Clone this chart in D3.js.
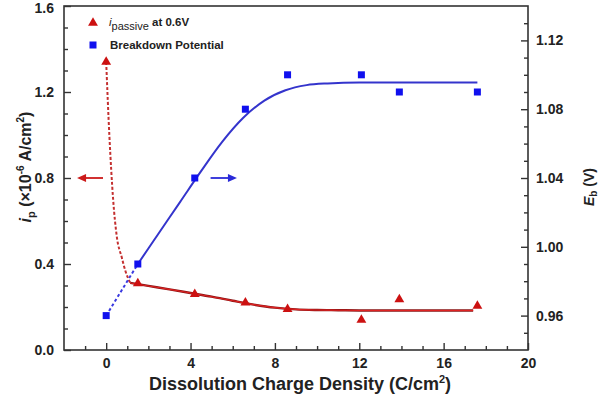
<!DOCTYPE html>
<html>
<head>
<meta charset="utf-8">
<script src="https://cdn.jsdelivr.net/npm/d3@7"></script>
<style>
  html, body { margin: 0; padding: 0; background: #fff; }
  svg text { font-family: "Liberation Sans", Arial, sans-serif; font-weight: bold; fill: #222; }
</style>
</head>
<body>
<svg id="chart" width="600" height="399"></svg>
<script>
// ---------- data ----------
const chargeDensity = [0, 1.5, 4.2, 6.6, 8.6, 12.1, 13.9, 17.6];
const iPassive = [1.34, 0.31, 0.26, 0.22, 0.19, 0.14, 0.235, 0.205];
const breakdownPotential = [0.96, 0.99, 1.04, 1.08, 1.10, 1.10, 1.09, 1.09];

// fitted curves
const fitIpDashedX = [0, 0.15, 0.33, 0.5, 0.74, 0.92, 1.14];
const fitIpDashedY = [1.34, 1.00, 0.70, 0.53, 0.43, 0.365, 0.312];
const fitIpSolidX = [1.14, 2, 3, 4, 5, 6, 7, 8, 9, 10, 11, 12, 17.4];
const fitIpSolidY = [0.312, 0.298, 0.282, 0.265, 0.248, 0.229, 0.211, 0.197, 0.189, 0.186, 0.185, 0.184, 0.184];
const fitEbDashedX = [0, 1.5];
const fitEbDashedY = [0.96, 0.99];
const fitEbSolidX = [1.5, 2.5, 3.5, 4.5, 5.5, 6.5, 7.5, 8.5, 9.5, 10.5, 12, 14, 17.6];
const fitEbSolidY = [0.990, 1.008, 1.026, 1.044, 1.061, 1.075, 1.085, 1.091, 1.094, 1.095, 1.0955, 1.0955, 1.0955];

const xTicks = [0, 4, 8, 12, 16, 20];
const yLeftTicks = [0.0, 0.4, 0.8, 1.2, 1.6];
const yRightTicks = [0.96, 1.00, 1.04, 1.08, 1.12];

const legendLabels = ["at 0.6V", "Breakdown Potential"];

// ---------- layout ----------
const svg = d3.select("#chart");
const L = 64, R = 528, T = 6, B = 350;
const x = d3.scaleLinear().domain([-2, 20]).range([L, R]);
const yL = d3.scaleLinear().domain([0, 1.6]).range([B, T]);
const yR = d3.scaleLinear().domain([0.94, 1.14]).range([B, T]);

const red = "#cc1111", blue = "#1010ee", blueLine = "#3434cc";
const axisColor = "#333";

// frame
svg.append("rect").attr("x", L).attr("y", T).attr("width", R - L).attr("height", B - T)
  .attr("fill", "none").attr("stroke", axisColor).attr("stroke-width", 1.6);

// axes (ticks inside)
const fmt1 = d3.format(".1f"), fmt2 = d3.format(".2f");
const xAxis = d3.axisBottom(x).tickValues(xTicks).tickSize(-7).tickPadding(8).tickFormat(d3.format("d"));
const xMinor = d3.axisBottom(x).tickValues(d3.range(-1, 20, 1).filter(v => v % 4 !== 0)).tickSize(-4).tickFormat("");
const yLAxis = d3.axisLeft(yL).tickValues(yLeftTicks).tickSize(-7).tickPadding(10).tickFormat(fmt1);
const yLMinor = d3.axisLeft(yL).tickValues(d3.range(1, 16).filter(v => v % 4 !== 0).map(v => v / 10)).tickSize(-4).tickFormat("");
const yRAxis = d3.axisRight(yR).tickValues(yRightTicks).tickSize(-7).tickPadding(8).tickFormat(fmt2);
const yRMinor = d3.axisRight(yR).tickValues(d3.range(95, 114).filter(v => v % 4 !== 0).map(v => v / 100)).tickSize(-4).tickFormat("");

function style(g) {
  g.select(".domain").remove();
  g.selectAll("line").attr("stroke", axisColor).attr("stroke-width", 1.4);
  g.selectAll("text").attr("font-size", 14).attr("fill", "#222")
    .attr("font-family", '"Liberation Sans", Arial, sans-serif').attr("font-weight", "bold");
}
svg.append("g").attr("transform", `translate(0,${B})`).call(xMinor).call(style);
svg.append("g").attr("transform", `translate(0,${B})`).call(xAxis).call(style);
svg.append("g").attr("transform", `translate(${L},0)`).call(yLMinor).call(style);
svg.append("g").attr("transform", `translate(${L},0)`).call(yLAxis).call(style)
  .selectAll("text").filter(d => d === 1.6).attr("dy", "0.45em");
svg.append("g").attr("transform", `translate(${R},0)`).call(yRMinor).call(style);
svg.append("g").attr("transform", `translate(${R},0)`).call(yRAxis).call(style);

// fitted lines
const lineL = d3.line().x(d => x(d[0])).y(d => yL(d[1])).curve(d3.curveMonotoneX);
const lineR = d3.line().x(d => x(d[0])).y(d => yR(d[1])).curve(d3.curveMonotoneX);
const zip = (a, b) => a.map((v, i) => [v, b[i]]);

svg.append("path").datum(zip(fitIpDashedX, fitIpDashedY)).attr("d", lineL)
  .attr("fill", "none").attr("stroke", "#c43030").attr("stroke-width", 2).attr("stroke-dasharray", "3,2");
svg.append("path").datum(zip(fitEbDashedX, fitEbDashedY)).attr("d", lineR)
  .attr("fill", "none").attr("stroke", "#3a3ae0").attr("stroke-width", 2).attr("stroke-dasharray", "3,2.5");
svg.append("path").datum(zip(fitIpSolidX, fitIpSolidY)).attr("d", lineL)
  .attr("fill", "none").attr("stroke", "#8a1515").attr("stroke-width", 2.4);
svg.append("path").datum(zip(fitIpSolidX, fitIpSolidY)).attr("d", lineL)
  .attr("fill", "none").attr("stroke", "#e02222").attr("stroke-width", 1.1);
svg.append("path").datum(zip(fitEbSolidX, fitEbSolidY)).attr("d", lineR)
  .attr("fill", "none").attr("stroke", blueLine).attr("stroke-width", 2);

// markers
const tri = d3.symbol().type(d3.symbolTriangle).size(42);
svg.append("g").selectAll("path").data(zip(chargeDensity, iPassive)).join("path")
  .attr("d", tri).attr("transform", d => `translate(${x(d[0])},${yL(d[1])})`).attr("fill", red);
svg.append("g").selectAll("rect").data(zip(chargeDensity, breakdownPotential)).join("rect")
  .attr("x", d => x(d[0]) - 3.5).attr("y", d => yR(d[1]) - 3.5).attr("width", 7).attr("height", 7).attr("fill", blue);

// arrows
function arrow(x1, x2, yPix, color) {
  const dir = Math.sign(x2 - x1);
  svg.append("line").attr("x1", x1).attr("x2", x2 - dir * 7).attr("y1", yPix).attr("y2", yPix)
    .attr("stroke", color).attr("stroke-width", 1.8);
  svg.append("path").attr("d", `M${x2},${yPix}L${x2 - dir * 9},${yPix - 4}L${x2 - dir * 9},${yPix + 4}Z`).attr("fill", color);
}
arrow(x(-0.15), x(-1.38), yL(0.8), "#cc1a1a");
arrow(x(4.95), x(6.2), yR(1.04), "#2a2ad8");

// legend
svg.append("path").attr("d", tri).attr("transform", "translate(93,23)").attr("fill", red);
svg.append("rect").attr("x", 89.5).attr("y", 41.5).attr("width", 7).attr("height", 7).attr("fill", blue);
const lg1 = svg.append("text").attr("x", 109).attr("y", 26).attr("font-size", 11.5);
lg1.append("tspan").text("i").attr("font-style", "italic").attr("font-weight", "normal");
lg1.append("tspan").text("passive").attr("font-size", 11).attr("dy", 4).attr("font-weight", "normal");
lg1.append("tspan").text(" " + legendLabels[0]).attr("dy", -4);
svg.append("text").attr("x", 110).attr("y", 49).attr("font-size", 11.5).text(legendLabels[1]);

// axis titles
const xt = svg.append("text").attr("x", (L + R) / 2 + 4).attr("y", 390).attr("text-anchor", "middle").attr("font-size", 18);
xt.append("tspan").text("Dissolution Charge Density (C/cm");
xt.append("tspan").text("2").attr("font-size", 11).attr("dy", -7);
xt.append("tspan").text(")").attr("dy", 7);

const lt = svg.append("text").attr("transform", "translate(31,167) rotate(-90)").attr("text-anchor", "middle").attr("font-size", 16);
lt.append("tspan").text("i").attr("font-style", "italic");
lt.append("tspan").text("p").attr("font-size", 11).attr("dy", 4);
lt.append("tspan").text(" (×10").attr("dy", -4);
lt.append("tspan").text("-6").attr("font-size", 10).attr("dy", -7);
lt.append("tspan").text(" A/cm").attr("dy", 7);
lt.append("tspan").text("2").attr("font-size", 10).attr("dy", -7);
lt.append("tspan").text(")").attr("dy", 7);

const rt = svg.append("text").attr("transform", "translate(594,187) rotate(-90)").attr("text-anchor", "middle").attr("font-size", 14);
rt.append("tspan").text("E").attr("font-style", "italic");
rt.append("tspan").text("b").attr("font-size", 10).attr("dy", 3);
rt.append("tspan").text(" (V)").attr("dy", -3);
</script>
</body>
</html>
